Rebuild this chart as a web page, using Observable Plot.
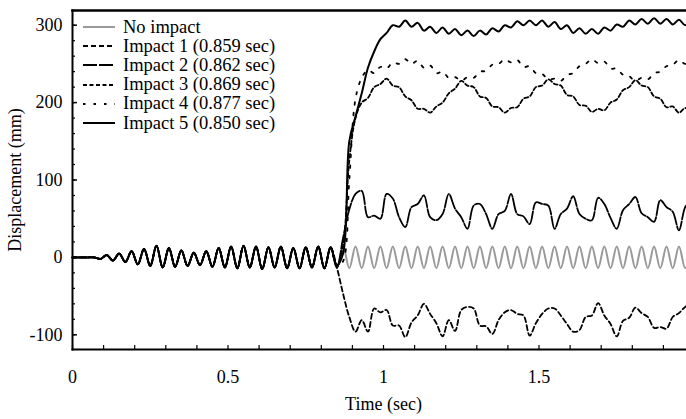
<!DOCTYPE html>
<html><head><meta charset="utf-8">
<script src="https://cdn.jsdelivr.net/npm/d3@7"></script>
<script src="https://cdn.jsdelivr.net/npm/@observablehq/plot@0.6"></script>
<style>
html,body{margin:0;padding:0;background:#fff;overflow:hidden}
#wrap{position:relative;width:686px;height:419px;overflow:hidden}
#legend{position:absolute;left:0;top:0;font-family:"Liberation Serif",serif;font-size:18.5px;color:#000}
.row{position:absolute;left:83px;height:20px;display:flex;align-items:center;white-space:nowrap}
.row svg{margin-right:8px}
</style></head><body><div id="wrap"><div id="legend"></div></div>
<script>
// ---- data ----
const seriesNames = ["No impact", "Impact 1 (0.859 sec)", "Impact 2 (0.862 sec)", "Impact 3 (0.869 sec)", "Impact 4 (0.877 sec)", "Impact 5 (0.850 sec)"];
const sampleStart = 0.01, sampleStep = 0.02; // time grid (sec) of the sampled values below
// shared response before the impacts (t = 0.01 ... 0.83)
const preImpact = [0, 0, 0, 0, -2, 3, -4, 5, -6, 8, -9, 11, -11, 15, -13, 12, -12, 9, -11, 6, -10, 8, -12, 12, -13, 14, -14, 15, -13, 14, -15, 13, -13, 14, -14, 12, -14, 13, -13, 14, -14, 13];
// responses after t = 0.85 ... 1.99
const postNoImpact = [-14, 14, -14, 14, -14, 14, -14, 14, -14, 14, -14, 14, -14, 14, -14, 14, -14, 14, -14, 14, -14, 14, -14, 14, -14, 14, -14, 14, -14, 14, -14, 14, -14, 14, -14, 14, -14, 14, -14, 14, -14, 14, -14, 14, -14, 14, -14, 14, -14, 14, -14, 14, -14, 14, -14, 14, -14, 14];
const postImpact1 = [-13, -47, -77, -96, -81, -96, -66, -71, -68, -88, -88, -103, -84, -75, -60, -73, -85, -102, -81, -95, -68, -64, -66, -88, -89, -99, -81, -71, -68, -73, -75, -101, -85, -73, -66, -66, -75, -86, -96, -94, -77, -75, -59, -75, -86, -102, -82, -78, -65, -72, -77, -91, -90, -92, -77, -72, -64, -60];
const postImpact2 = [-13, 25, 62, 82, 86, 52, 54, 50, 82, 76, 52, 39, 65, 69, 80, 52, 48, 56, 82, 63, 52, 37, 67, 69, 56, 37, 56, 60, 82, 56, 53, 43, 71, 69, 67, 37, 56, 63, 79, 56, 50, 48, 77, 69, 51, 37, 61, 69, 78, 57, 52, 46, 74, 65, 59, 35, 65, 75];
const postImpact3 = [-12, 15, 125, 180, 200, 206, 220, 224, 231, 222, 220, 208, 203, 192, 192, 187, 195, 200, 212, 218, 228, 222, 220, 208, 206, 195, 194, 187, 193, 194, 205, 208, 220, 222, 230, 224, 222, 210, 208, 197, 196, 188, 192, 190, 200, 204, 216, 220, 229, 222, 220, 208, 205, 194, 195, 187, 193, 190];
const postImpact4 = [-12, -5, 100, 205, 232, 242, 238, 246, 244, 252, 250, 256, 250, 254, 245, 248, 238, 240, 232, 233, 228, 233, 232, 240, 241, 249, 250, 256, 252, 255, 246, 247, 238, 237, 230, 231, 228, 236, 238, 247, 250, 256, 251, 253, 244, 244, 236, 234, 228, 232, 230, 238, 240, 247, 249, 255, 250, 254];
const postImpact5 = [-10, 5, 150, 182, 212, 245, 266, 282, 290, 300, 298, 306, 298, 303, 293, 298, 290, 297, 289, 295, 287, 293, 286, 293, 288, 296, 292, 300, 297, 305, 300, 306, 300, 306, 298, 304, 295, 300, 290, 296, 289, 295, 289, 297, 293, 301, 298, 306, 301, 308, 302, 309, 302, 308, 301, 307, 300, 306];
const xTicks = [0, 0.5, 1, 1.5, 2];
const yTicks = [-100, 0, 100, 200, 300];

// ---- styles ----
const styles = [
  {stroke: "#999", dash: null, width: 2},
  {stroke: "#000", dash: "5,3", width: 1.8},
  {stroke: "#000", dash: "14,2", width: 1.8},
  {stroke: "#000", dash: "4,2.5", width: 1.8},
  {stroke: "#000", dash: "2.5,8", width: 1.8},
  {stroke: "#000", dash: null, width: 2}
];
const posts = [postNoImpact, postImpact1, postImpact2, postImpact3, postImpact4, postImpact5];

const series = seriesNames.map((name, i) => {
  const vals = [0, ...preImpact, ...posts[i]];
  return vals.map((v, k) => ({name, t: k === 0 ? 0 : sampleStart + (k - 1) * sampleStep, v}));
});

const font = '"Liberation Serif", "Times New Roman", serif';
const chart = Plot.plot({
  width: 686, height: 419,
  marginLeft: 72, marginTop: 10, marginBottom: 70, marginRight: -8,
  style: {fontFamily: font, fontSize: "18.5px", color: "#000", background: "#fff"},
  x: {domain: [0, 2], range: [72, 694]},
  y: {domain: [-119, 319]},
  marks: [
    ...series.map((rows, i) => Plot.line(rows, {
      x: "t", y: "v", stroke: styles[i].stroke, strokeWidth: styles[i].width,
      strokeDasharray: styles[i].dash, curve: "catmull-rom"
    })),
    Plot.frame({anchor: "top", strokeWidth: 2.6}),
    Plot.frame({anchor: "left", strokeWidth: 2}),
    Plot.frame({anchor: "bottom", strokeWidth: 2}),
    Plot.axisY({ticks: yTicks, tickSize: 0, tickPadding: 10, tickFormat: d => String(d),
      label: "Displacement (mm)", labelAnchor: "center", labelOffset: 64, labelArrow: "none", fontSize: 18}),
    Plot.axisY({ticks: yTicks, tickSize: 5, text: null, label: null, dx: 5, strokeWidth: 1.5}),
    Plot.axisY({ticks: d3.range(-100, 301, 20), tickSize: 3, text: null, label: null, dx: 3, strokeWidth: 1.2}),
    Plot.axisX({ticks: xTicks, tickSize: 0, tickPadding: 21, tickFormat: d => String(d),
      label: "Time (sec)", labelAnchor: "center", labelOffset: 60, labelArrow: "none", fontSize: 18}),
    Plot.axisX({ticks: d3.range(0, 2.001, 0.1), tickSize: 4, text: null, label: null, dy: -4, strokeWidth: 1.2})
  ]
});
document.getElementById("wrap").insertBefore(chart, document.getElementById("legend"));

// ---- legend (inside the plot, top-left) ----
const legend = d3.select("#legend");
seriesNames.forEach((name, i) => {
  const row = legend.append("div").attr("class", "row").style("top", (17 + i * 19.2) + "px");
  const svg = row.append("svg").attr("width", 32).attr("height", 10);
  svg.append("line").attr("x1", 0).attr("x2", 32).attr("y1", 5).attr("y2", 5)
    .attr("stroke", styles[i].stroke).attr("stroke-width", styles[i].width)
    .attr("stroke-dasharray", styles[i].dash);
  row.append("span").text(name);
});
</script>
</body></html>
